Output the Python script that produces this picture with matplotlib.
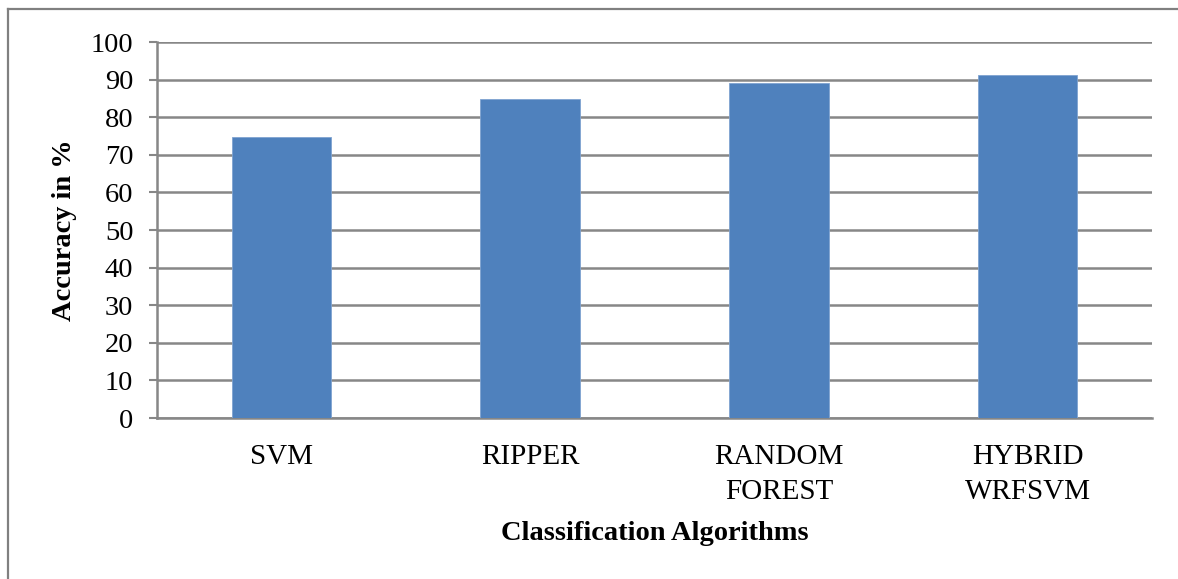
import matplotlib
matplotlib.use("Agg")
import matplotlib.pyplot as plt
from matplotlib.lines import Line2D

categories = ["SVM", "RIPPER", "RANDOM\nFOREST", "HYBRID\nWRFSVM"]
accuracy = [74.7, 84.8, 89.0, 91.3]
yticks = [0, 10, 20, 30, 40, 50, 60, 70, 80, 90, 100]

plt.rcParams['font.family'] = ['Liberation Serif', 'DejaVu Serif']

W, H = 1178, 579
fig = plt.figure(figsize=(W / 100, H / 100), dpi=100)
ax = fig.add_axes([157 / W, 1 - 418 / H, (1152 - 157) / W, (418 - 42) / H])

grid_c = "#878787"
ax.bar(range(len(categories)), accuracy, width=0.4, color="#4F81BD",
       edgecolor="#7FA3D0", linewidth=0.6, zorder=3)
ax.set_xlim(-0.5, len(categories) - 0.5)
ax.set_ylim(0, 100)
ax.set_yticks(yticks)
ax.set_yticklabels([str(v) for v in yticks], fontsize=20.5)
ax.set_xticks(range(len(categories)))
ax.set_xticklabels(categories, fontsize=21, linespacing=1.45)
ax.tick_params(axis='x', length=0, pad=19)
ax.tick_params(axis='y', length=6, width=1.5, color=grid_c, pad=11)
ax.yaxis.grid(True, color=grid_c, linewidth=1.8, zorder=0)
ax.set_axisbelow(True)
for s in ["top", "right"]:
    ax.spines[s].set_visible(False)
for s in ["left", "bottom"]:
    ax.spines[s].set_color(grid_c)
    ax.spines[s].set_linewidth(1.8)

ax.set_ylabel("Accuracy in %", fontsize=20.5, fontweight="bold", labelpad=10)
ax.set_xlabel("Classification Algorithms", fontsize=20.5, fontweight="bold", labelpad=11)

# outer border (top and left visible)
bx, by = 8 / W, 1 - 9 / H
fig.add_artist(Line2D([bx, 1.0], [by, by], transform=fig.transFigure,
                      color="#808080", linewidth=1.6))
fig.add_artist(Line2D([bx, bx], [0.0, by], transform=fig.transFigure,
                      color="#808080", linewidth=1.6))

fig.savefig("out.png", dpi=100)
